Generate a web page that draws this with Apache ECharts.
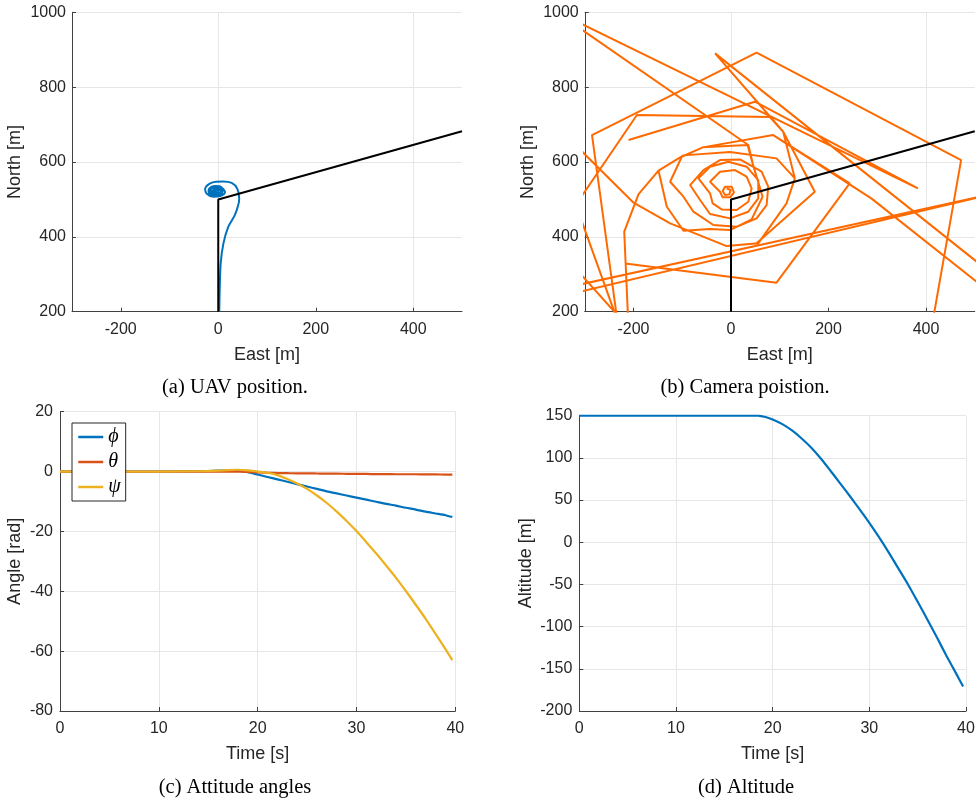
<!DOCTYPE html>
<html><head><meta charset="utf-8">
<script src="https://cdn.jsdelivr.net/npm/echarts@6/dist/echarts.min.js"></script>
<style>html,body{margin:0;padding:0;background:#fff}#c{width:978px;height:801px}</style>
</head><body><div id="c"></div>
<script>
// (a) UAV position
const uavEast  = [2,3,5,10.5,20.7,34,41,43,39,27.5,10,-13,-27,-24,-10,4,14,10,3,-7,-17,-20,-15,-5,5,9,5,-5,-14,-16,-12,-5,2,5,2,-5,-10,-12,-9,-5,0,0,-5,-8,-5,-3];
const uavNorth = [200,260,329,382,427,458,485,502,529,544,548,545,529,516,507,509,520,528,535,536,531,522,513,510,513,522,530,533,529,522,516,514,517,522,527,529,526,522,518,517,520,524,525,522,520,522];
// reference path (black)
const refEast  = [0,0,500];
const refNorth = [200,500,682];
// (b) camera position (null = break between traced pieces)
const camEast = [
 -8.9,-0.7,-3.4,-12.3,-17.1,-12.3,1.4,6.1,-2.0,-17.1,-22.5,
 -43.0,-22.5,8.2,32.1,42.3,35.5,11.6,-19.1,-37.5,-43.0,
 -66.8,-43.0,-5.5,32.1,55.9,55.9,35.5,-2.0,-43.0,-63.4,
 -83.9,-56.6,-22.5,18.4,62.8,76.4,73.0,52.5,11.6,-36.2,-77.1,-97.5,
 -124.8,-101.0,-58.0,34.1,44.3,64.8,42.3,-2.0,-43.0,-97.5,-131.6,
 -148.7,-97.5,-2.0,93.4,131.0,113.9,55.9,-8.9,-124.8,-199.9,-336.3,
 null,-336.3,-193.0,79.8,107.1,171.9,52.5,
 null,-210.1,-219.0,-189.6,-148.7,
 null,-216.9,93.4,243.5,86.6,-58.0,
 null,-230.5,-285.1,52.5,472.0,410.6,
 null,-336.3,383.3,49.1,-210.1,
 null,-336.3,35.5,44.3,
 null,536.8,-32.7,107.1,131.0,
 null,86.6,287.8,536.8,
 null,-336.3,557.3,-336.3,
 null,-336.3,-225.8,
 null,-336.3,-205.3
];
const camNorth = [
 529.5,525.1,513.5,511.7,522.4,534.0,534.0,517.9,505.5,505.5,520.6,
 547.3,574.1,578.5,560.7,529.5,493.9,471.6,473.4,489.4,516.2,
 556.2,587.4,600.8,587.4,551.8,502.8,467.2,449.4,461.0,498.4,
 538.4,578.5,605.2,607.0,574.1,534.0,485.0,449.4,427.1,431.6,467.2,507.3,
 547.3,614.1,639.1,645.3,596.3,507.3,446.7,418.2,420.9,416.4,480.5,
 576.7,617.7,626.6,609.7,556.2,489.4,382.6,375.4,436.0,491.2,667.6,
 null,451.1,725.5,720.1,680.9,520.6,382.6,
 null,151.0,413.7,514.4,576.7,
 null,329.1,277.5,542.9,672.0,639.1,
 null,151.0,672.0,892.0,605.2,151.0,
 null,988.2,529.5,761.1,658.7,
 null,981.0,645.3,598.1,
 null,299.7,890.2,680.9,556.2,
 null,672.0,502.8,246.3,
 null,265.0,520.6,245.4,
 null,550.9,151.0,
 null,340.7,151.0
];
// (c) attitude angles
const attTime = [0,5,10,14,16,17,18,19,20,21,22,23,24,25,26,27,28,29,30,31,32,33,34,35,36,37,38,39,39.7];
const phi   = [0,0,0,0.1,0.3,0.4,0.3,-0.2,-1.0,-1.8,-2.6,-3.4,-4.2,-5.0,-5.8,-6.6,-7.3,-8.0,-8.7,-9.4,-10.1,-10.8,-11.4,-12.1,-12.7,-13.4,-14.0,-14.6,-15.2];
const theta = [0,0,0,0,0,0,0,-0.1,-0.3,-0.4,-0.5,-0.55,-0.6,-0.6,-0.65,-0.7,-0.7,-0.75,-0.8,-0.8,-0.85,-0.85,-0.9,-0.9,-0.9,-0.95,-0.95,-1.0,-1.0];
const psi   = [0,0,0,0.1,0.3,0.5,0.6,0.4,0,-0.4,-1.2,-2.5,-4.0,-5.8,-8.0,-10.5,-13.4,-16.5,-19.9,-23.6,-27.4,-31.4,-35.5,-39.9,-44.5,-49.2,-54.2,-59.3,-63.0];
// (d) altitude
const altTime  = [0,5,10,15,18,18.5,19,19.5,20,21,22,23,24,25,26,27,28,29,30,31,32,33,34,35,36,37,38,39,39.7];
const altitude = [150,150,150,150,150,150,149,147.5,145.5,140,132.5,123,112,99,84.5,69.5,54.5,39,23,6,-12,-31,-50,-70.5,-91.5,-113,-135,-156,-171];
// tick labels
const enTicks = [-200,0,200,400];
const captions = ['(a) UAV position.','(b) Camera poistion.','(c) Attitude angles','(d) Altitude'];
const legendNames = ['\u03d5','\u03b8','\u03c8'];

function pairs(xs, ys){ return xs.map((x,i)=> x===null ? null : [x, ys[i]]); }

const AX = '#404040', TXT = '#262626', GRIDC = '#e6e6e6', SANS = 'Liberation Sans', SERIF = 'Liberation Serif';
const plain = v => String(v);

function axisBase(){
  return {
    axisLine:{show:true,onZero:false,lineStyle:{color:AX,width:1}},
    axisTick:{show:true,inside:true,length:4,lineStyle:{color:AX}},
    axisLabel:{color:TXT,fontSize:16,fontFamily:SANS,formatter:plain},
    splitLine:{show:true,lineStyle:{color:GRIDC,width:1}},
    nameLocation:'middle',
    nameTextStyle:{color:TXT,fontSize:18,fontFamily:SANS}
  };
}
function xEN(gi){
  const a = axisBase();
  return Object.assign(a,{type:'value',gridIndex:gi,min:-300,max:500,interval:100,name:'East [m]',nameGap:34,
    axisLabel:Object.assign(a.axisLabel,{margin:10,formatter:v=> enTicks.indexOf(v)>=0 ? String(v) : ''}),
    axisTick:{show:true,inside:true,length:4,lineStyle:{color:AX},customValues:enTicks},
    splitLine:{show:true,lineStyle:{color:['rgba(0,0,0,0)',GRIDC],width:1}}});
}
function yN(gi){
  const a = axisBase();
  return Object.assign(a,{type:'value',gridIndex:gi,min:200,max:1000,interval:200,name:'North [m]',nameGap:48,
    axisLabel:Object.assign(a.axisLabel,{margin:6})});
}
function xT(gi){
  const a = axisBase();
  return Object.assign(a,{type:'value',gridIndex:gi,min:0,max:40,interval:10,name:'Time [s]',nameGap:34,
    axisLabel:Object.assign(a.axisLabel,{margin:10})});
}

const option = {
  animation:false,
  backgroundColor:'#fff',
  grid:[
    {left:72,top:12.3,width:390,height:299.4,outerBoundsMode:'none'},
    {left:584.75,top:12.3,width:390,height:299.4,outerBoundsMode:'none'},
    {left:60,top:411.7,width:395.3,height:299.3,outerBoundsMode:'none'},
    {left:579.3,top:415.7,width:386.7,height:295.3,outerBoundsMode:'none'}
  ],
  xAxis:[xEN(0), xEN(1), xT(2), xT(3)],
  yAxis:[yN(0), yN(1),
    Object.assign(axisBase(),{type:'value',gridIndex:2,min:-80,max:20,interval:20,name:'Angle [rad]',nameGap:36,
      axisLabel:{color:TXT,fontSize:16,fontFamily:SANS,margin:7,formatter:plain}}),
    Object.assign(axisBase(),{type:'value',gridIndex:3,min:-200,max:150,interval:50,name:'Altitude [m]',nameGap:44,
      axisLabel:{color:TXT,fontSize:16,fontFamily:SANS,margin:7,formatter:plain}})
  ],
  legend:{show:true,data:legendNames,orient:'vertical',left:72,top:423,itemWidth:25,itemHeight:14,itemGap:5,
    padding:[4,5,4,5],borderColor:'#262626',borderWidth:1,borderRadius:0,backgroundColor:'#fff',
    itemStyle:{opacity:0},lineStyle:{width:2.5},
    textStyle:{fontFamily:SERIF,fontStyle:'italic',fontSize:20,color:'#000',lineHeight:20}},
  series:[
    {type:'line',xAxisIndex:0,yAxisIndex:0,data:pairs(uavEast,uavNorth),symbol:'none',smooth:0.3,
      lineStyle:{color:'#0072BD',width:2},z:2},
    {type:'line',xAxisIndex:0,yAxisIndex:0,data:pairs(refEast,refNorth),symbol:'none',
      lineStyle:{color:'#000',width:2},z:3},
    {type:'line',xAxisIndex:1,yAxisIndex:1,data:pairs(camEast,camNorth),symbol:'none',connectNulls:false,
      lineStyle:{color:'#FF6A00',width:2},z:2},
    {type:'line',xAxisIndex:1,yAxisIndex:1,data:pairs(refEast,refNorth),symbol:'none',
      lineStyle:{color:'#000',width:2},z:3},
    {type:'line',name:legendNames[0],xAxisIndex:2,yAxisIndex:2,data:pairs(attTime,phi),symbol:'none',smooth:0.25,
      color:'#0072BD',lineStyle:{color:'#0072BD',width:2.2}},
    {type:'line',name:legendNames[1],xAxisIndex:2,yAxisIndex:2,data:pairs(attTime,theta),symbol:'none',smooth:0.25,
      color:'#D95319',lineStyle:{color:'#D95319',width:2.2}},
    {type:'line',name:legendNames[2],xAxisIndex:2,yAxisIndex:2,data:pairs(attTime,psi),symbol:'none',smooth:0.25,
      color:'#EDB120',lineStyle:{color:'#EDB120',width:2.2}},
    {type:'line',xAxisIndex:3,yAxisIndex:3,data:pairs(altTime,altitude),symbol:'none',smooth:0.25,
      lineStyle:{color:'#0072BD',width:2.2}}
  ],
  graphic:[
    {type:'text',x:235,y:388,style:{text:captions[0],fontFamily:SERIF,fontSize:20.5,fill:'#000',align:'center',verticalAlign:'middle'}},
    {type:'text',x:745,y:388,style:{text:captions[1],fontFamily:SERIF,fontSize:20.5,fill:'#000',align:'center',verticalAlign:'middle'}},
    {type:'text',x:235,y:788,style:{text:captions[2],fontFamily:SERIF,fontSize:20.5,fill:'#000',align:'center',verticalAlign:'middle'}},
    {type:'text',x:746,y:788,style:{text:captions[3],fontFamily:SERIF,fontSize:20.5,fill:'#000',align:'center',verticalAlign:'middle'}}
  ]
};
const chart = echarts.init(document.getElementById('c'));
chart.setOption(option);
</script>
</body></html>
